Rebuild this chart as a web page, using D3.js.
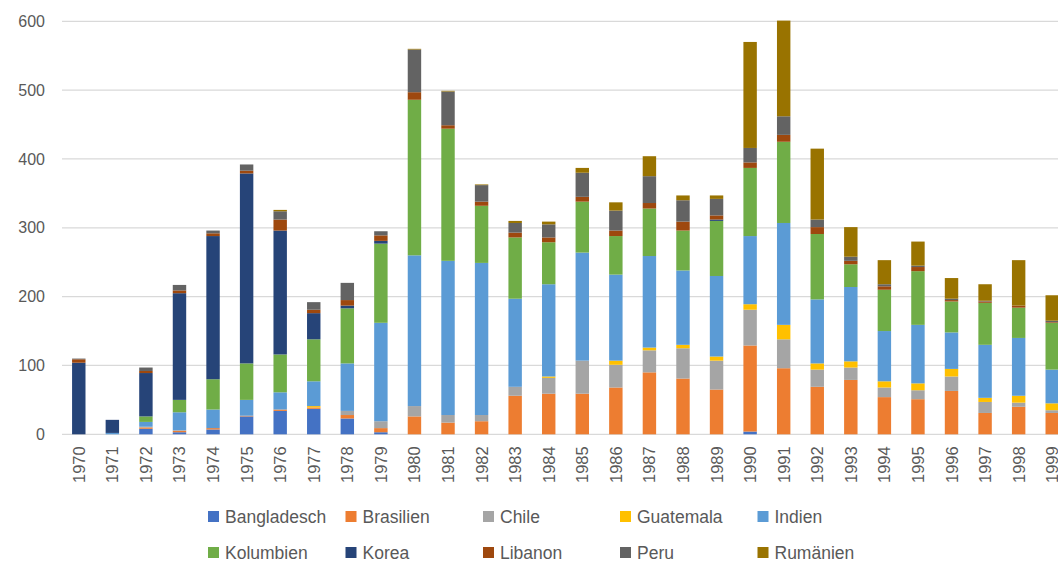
<!DOCTYPE html>
<html>
<head>
<meta charset="utf-8">
<script src="https://cdn.jsdelivr.net/npm/d3@7"></script>
<style>
  html, body { margin: 0; padding: 0; background: #ffffff; overflow: hidden; }
  svg { display: block; font-family: "Liberation Sans", Arial, sans-serif; }
</style>
</head>
<body>
<svg id="chart" width="1058" height="563"></svg>
<script>
// Jahre 1970–1999
const years = d3.range(1970, 2000).map(String);

const seriesNames = ["Bangladesch", "Brasilien", "Chile", "Guatemala", "Indien",
                     "Kolumbien", "Korea", "Libanon", "Peru", "Rumänien"];
const seriesColors = ["#4472C4", "#ED7D31", "#A5A5A5", "#FFC000", "#5B9BD5",
                      "#70AD47", "#264478", "#9E480E", "#636363", "#997300"];

// Werte je Land, 1970 … 1999
const bangladesch = [0,0,8,3,7,26,34,37,23,3, 0,0,0,0,0,0,0,0,0,0, 4,0,0,0,0,0,0,0,0,0];
const brasilien   = [0,0,2,2,2,1,2,2,5,6, 26,17,19,56,59,59,68,90,81,65, 125,96,69,79,54,51,63,31,40,31];
const chile       = [0,0,1,1,0,0,0,0,6,10, 15,11,9,13,23,48,33,32,44,42, 52,42,25,18,14,13,21,16,6,4];
const guatemala   = [0,0,0,0,0,0,0,2,0,0, 0,0,0,0,2,0,6,4,5,6, 8,21,9,9,9,10,11,6,10,10];
const indien      = [0,2,7,26,27,23,25,36,69,143, 219,224,221,128,134,157,125,133,108,117, 99,148,93,108,73,85,53,77,84,49];
const kolumbien   = [0,0,8,18,44,53,55,61,80,115, 226,192,83,89,61,74,56,69,58,80, 99,118,95,33,60,78,45,61,44,68];
const korea       = [104,19,63,155,208,276,180,38,4,4, 0,0,0,0,0,0,0,0,0,2, 0,0,0,0,0,0,0,0,0,0];
const libanon     = [5,0,3,4,4,4,16,5,8,8, 11,5,6,7,7,7,8,8,13,6, 8,10,10,5,5,6,2,2,3,1];
const peru        = [1,0,5,8,4,9,12,11,25,6, 62,49,24,14,19,35,29,39,31,24, 21,27,11,6,3,2,2,1,0,2];
const rumaenien   = [0,0,0,0,0,0,2,0,0,0, 1,1,1,3,4,7,12,29,7,5, 154,139,103,43,35,35,30,24,66,37];

const yTicks = [0, 100, 200, 300, 400, 500, 600];

const seriesValues = [bangladesch, brasilien, chile, guatemala, indien,
                      kolumbien, korea, libanon, peru, rumaenien];

// Tabelle für d3.stack
const table = years.map((yr, i) => {
  const row = { year: yr };
  seriesNames.forEach((name, s) => { row[name] = seriesValues[s][i]; });
  return row;
});

const svg = d3.select("#chart");
const plot = { left: 62, right: 1069, top: 21.3, bottom: 434.3 };

const x = d3.scaleBand()
  .domain(years)
  .range([plot.left, plot.right])
  .paddingInner(0.6)
  .paddingOuter(0.3);

const y = d3.scaleLinear()
  .domain([0, 600])
  .range([plot.bottom, plot.top]);

const color = d3.scaleOrdinal().domain(seriesNames).range(seriesColors);

// Gitterlinien
svg.append("g")
  .selectAll("line")
  .data(yTicks)
  .join("line")
  .attr("x1", plot.left)
  .attr("x2", plot.right)
  .attr("y1", d => y(d))
  .attr("y2", d => y(d))
  .attr("stroke", "#d9d9d9")
  .attr("stroke-width", 1.3);

// y-Achse
const yAxis = svg.append("g")
  .attr("transform", `translate(${plot.left},0)`)
  .call(d3.axisLeft(y).tickValues(yTicks).tickSize(0).tickPadding(17));
yAxis.select(".domain").remove();
yAxis.selectAll("text")
  .attr("fill", "#595959")
  .style("font-size", "16px");

// gestapelte Säulen
const stacked = d3.stack().keys(seriesNames)(table);

svg.append("g")
  .selectAll("g")
  .data(stacked)
  .join("g")
  .attr("fill", d => color(d.key))
  .selectAll("rect")
  .data(d => d)
  .join("rect")
  .attr("x", d => x(d.data.year))
  .attr("width", x.bandwidth())
  .attr("y", d => y(d[1]))
  .attr("height", d => Math.max(0, y(d[0]) - y(d[1])));

// x-Achse, senkrechte Jahreszahlen
const xAxis = svg.append("g")
  .attr("transform", `translate(0,${plot.bottom})`)
  .call(d3.axisBottom(x).tickSize(0).tickPadding(0));
xAxis.select(".domain").remove();
xAxis.selectAll("text")
  .attr("fill", "#595959")
  .style("font-size", "16.5px")
  .attr("text-anchor", "end")
  .attr("dy", null)
  .attr("y", 0)
  .attr("transform", "translate(6,12) rotate(-90)");

// Legende in zwei Zeilen
const legendX = [208, 345.5, 483, 620, 757.5];
const legendY = [517, 553];
const legend = svg.append("g")
  .selectAll("g")
  .data(seriesNames)
  .join("g")
  .attr("transform", (d, i) => `translate(${legendX[i % 5]},${legendY[Math.floor(i / 5)]})`);

legend.append("rect")
  .attr("x", 0)
  .attr("y", -6)
  .attr("width", 11)
  .attr("height", 11)
  .attr("fill", d => color(d));

legend.append("text")
  .attr("x", 17)
  .attr("y", 0)
  .attr("dy", "0.35em")
  .attr("fill", "#595959")
  .style("font-size", "17.5px")
  .text(d => d);
</script>
</body>
</html>
